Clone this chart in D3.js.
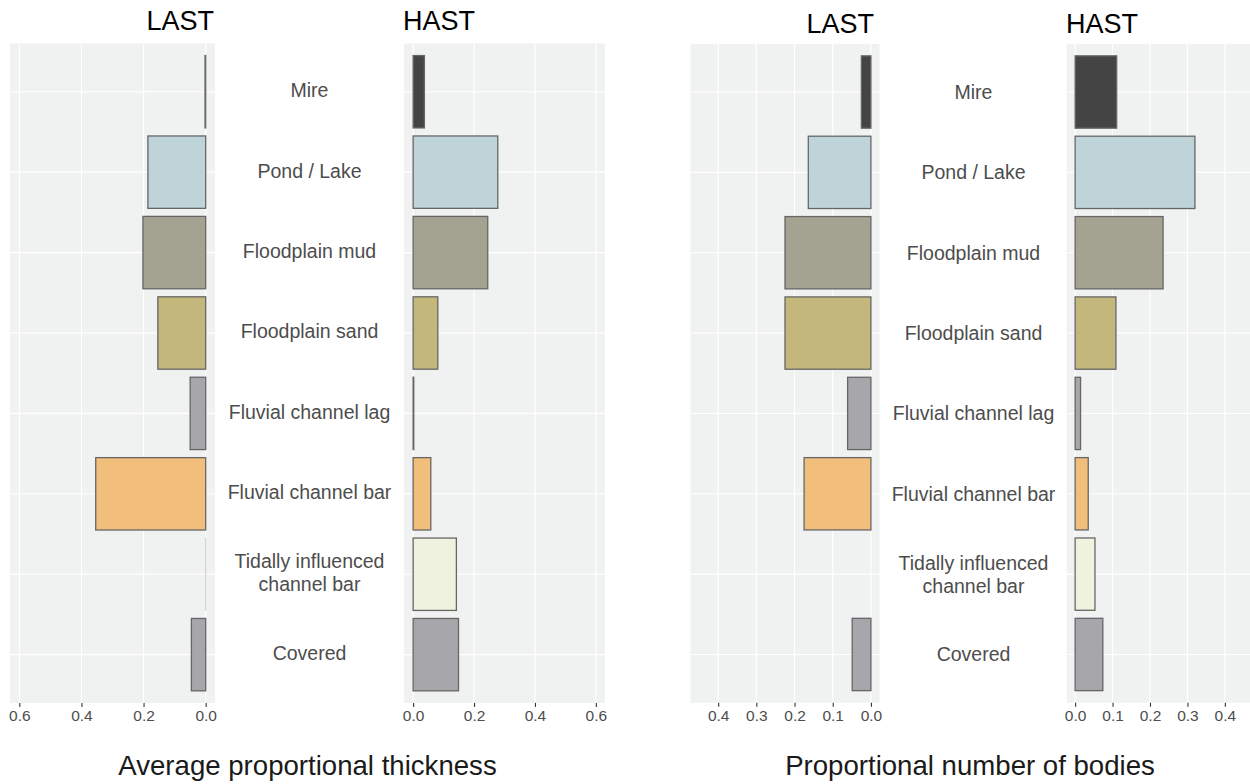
<!DOCTYPE html>
<html>
<head>
<meta charset="utf-8">
<script src="https://cdn.jsdelivr.net/npm/d3@7"></script>
<style>
  html, body { margin: 0; padding: 0; background: #ffffff; }
  svg { display: block; }
  text { font-family: "Liberation Sans", Arial, Helvetica, sans-serif; }
</style>
</head>
<body>
<svg id="chart" width="1250" height="784"></svg>
<script>
// ---------- DATA ----------
const categories = ["Mire", "Pond / Lake", "Floodplain mud", "Floodplain sand",
  "Fluvial channel lag", "Fluvial channel bar", "Tidally influenced\nchannel bar", "Covered"];
const fillColors = ["#444444", "#bed4d9", "#a4a392", "#c3b77c",
  "#a7a7ab", "#f2be7c", "#eef2df", "#a7a7ab"];

const thicknessLAST = [0.002, 0.186, 0.202, 0.154, 0.050, 0.354, 0.0005, 0.046];
const thicknessHAST = [0.037, 0.278, 0.245, 0.081, 0.002, 0.058, 0.142, 0.149];
const bodiesLAST    = [0.025, 0.164, 0.225, 0.225, 0.061, 0.175, 0.0, 0.049];
const bodiesHAST    = [0.111, 0.320, 0.235, 0.109, 0.0145, 0.035, 0.053, 0.074];

const thicknessTicks = [0, 0.2, 0.4, 0.6];
const bodiesTicks = [0, 0.1, 0.2, 0.3, 0.4];
const panelTitles = ["LAST", "HAST"];
const axisTitles = ["Average proportional thickness", "Proportional number of bodies"];

// ---------- DRAW ----------
const svg = d3.select("#chart");
const PANEL_BG = "#f0f2f1";
const TEXT_GREY = "#4d4d4d";

function drawPanel(cfg) {
  const { x0, x1, y0, y1, domain, reversed, values, ticks, fmt } = cfg;
  const x = d3.scaleLinear().domain(domain).range(reversed ? [x1, x0] : [x0, x1]);
  const y = d3.scalePoint().domain(categories).range([y0, y1]).padding(0.6);
  const bh = y.step() * 0.9;
  const g = svg.append("g");
  g.append("rect").attr("x", x0).attr("y", y0).attr("width", x1 - x0).attr("height", y1 - y0)
    .attr("fill", PANEL_BG);
  g.selectAll("line.vg").data(ticks).join("line")
    .attr("x1", d => x(d)).attr("x2", d => x(d)).attr("y1", y0).attr("y2", y1)
    .attr("stroke", "#ffffff").attr("stroke-width", 1.1);
  g.selectAll("line.hg").data(categories).join("line")
    .attr("x1", x0).attr("x2", x1).attr("y1", d => y(d)).attr("y2", d => y(d))
    .attr("stroke", "#ffffff").attr("stroke-width", 1.1);
  g.selectAll("rect.bar").data(values).join("rect")
    .attr("x", d => Math.min(x(0), x(d)))
    .attr("width", d => Math.abs(x(d) - x(0)))
    .attr("y", (d, i) => y(categories[i]) - bh / 2)
    .attr("height", bh)
    .attr("fill", (d, i) => fillColors[i])
    .attr("stroke", d => d <= 0 ? "none" : (Math.abs(x(d) - x(0)) < 0.5 ? "#d6d6d6" : "#666666"))
    .attr("stroke-width", 1.3);
  const axis = d3.axisBottom(x).tickValues(ticks).tickFormat(fmt).tickSize(4).tickPadding(3);
  const ax = g.append("g").attr("transform", `translate(0,${y1})`).call(axis);
  ax.select(".domain").remove();
  ax.selectAll(".tick line").attr("stroke", "#333333").attr("stroke-width", 1.1);
  ax.selectAll(".tick text").attr("fill", TEXT_GREY).style("font-size", "15.5px")
    .style("font-family", '"Liberation Sans", Arial, sans-serif');
  return y;
}

function drawLabels(cx, y, dy) {
  const g = svg.append("g");
  categories.forEach(c => {
    const lines = c.split("\n");
    const lh = 23;
    const t = g.append("text").attr("x", cx).attr("text-anchor", "middle")
      .attr("fill", TEXT_GREY).style("font-size", "19.5px");
    lines.forEach((ln, j) => {
      t.append("tspan").attr("x", cx)
        .attr("y", y(c) + dy + (j - (lines.length - 1) / 2) * lh)
        .text(ln);
    });
  });
}

const fmt1 = d3.format(".1f");

// Left chart
const yL = drawPanel({ x0: 10, x1: 215, y0: 43.5, y1: 702.9, domain: [-0.03, 0.63], reversed: true,
  values: thicknessLAST, ticks: thicknessTicks, fmt: fmt1 });
drawPanel({ x0: 404, x1: 605, y0: 43.5, y1: 702.9, domain: [-0.03, 0.63], reversed: false,
  values: thicknessHAST, ticks: thicknessTicks, fmt: fmt1 });
drawLabels(309.5, yL, 5.5);

// Right chart
const yR = drawPanel({ x0: 690.5, x1: 879.5, y0: 43.8, y1: 702.7, domain: [-0.0225, 0.4725], reversed: true,
  values: bodiesLAST, ticks: bodiesTicks, fmt: fmt1 });
drawPanel({ x0: 1066.7, x1: 1252, y0: 43.8, y1: 702.7, domain: [-0.0225, 0.4725], reversed: false,
  values: bodiesHAST, ticks: bodiesTicks, fmt: fmt1 });
drawLabels(973.5, yR, 7);

// Panel titles
const titleStyle = t => t.attr("fill", "#000000").style("font-size", "27px");
svg.append("text").attr("x", 214).attr("y", 30).attr("text-anchor", "end").text(panelTitles[0]).call(titleStyle);
svg.append("text").attr("x", 403).attr("y", 30).attr("text-anchor", "start").text(panelTitles[1]).call(titleStyle);
svg.append("text").attr("x", 874).attr("y", 33).attr("text-anchor", "end").text(panelTitles[0]).call(titleStyle);
svg.append("text").attr("x", 1066).attr("y", 33).attr("text-anchor", "start").text(panelTitles[1]).call(titleStyle);

// Axis titles
svg.append("text").attr("x", 307.5).attr("y", 775).attr("text-anchor", "middle")
  .attr("fill", "#1a1a1a").style("font-size", "27.6px").text(axisTitles[0]);
svg.append("text").attr("x", 970).attr("y", 775).attr("text-anchor", "middle")
  .attr("fill", "#1a1a1a").style("font-size", "27.6px").text(axisTitles[1]);
</script>
</body>
</html>
